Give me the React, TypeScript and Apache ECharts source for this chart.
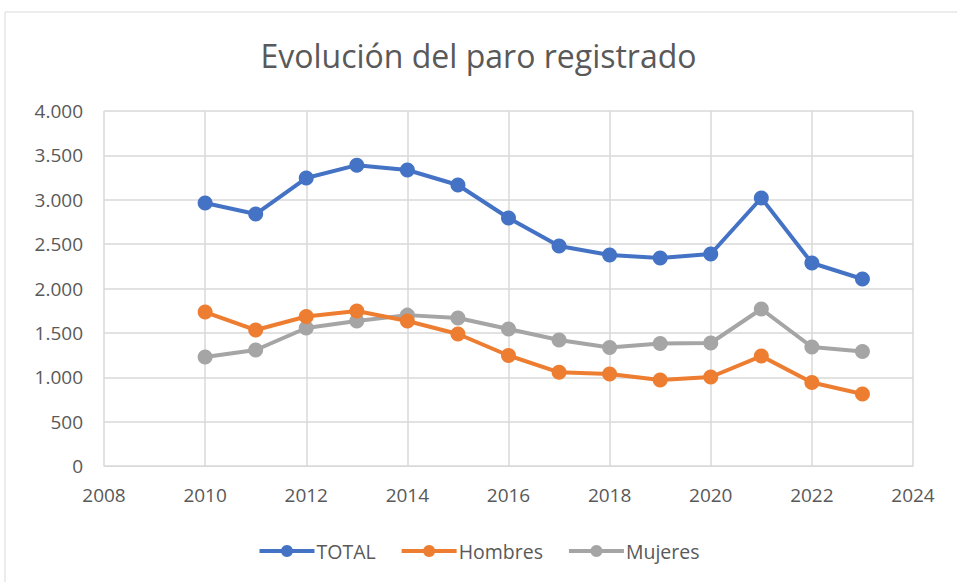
import React, { useEffect, useRef } from "react";
import * as echarts from "echarts";

const years = [2010, 2011, 2012, 2013, 2014, 2015, 2016, 2017, 2018, 2019, 2020, 2021, 2022, 2023];
const total = [2963, 2839, 3245, 3390, 3335, 3166, 2794, 2479, 2377, 2344, 2389, 3020, 2287, 2107];
const hombres = [1735, 1532, 1685, 1746, 1634, 1487, 1245, 1055, 1037, 969, 1003, 1239, 940, 811];
const mujeres = [1228, 1307, 1555, 1634, 1700, 1668, 1544, 1420, 1335, 1380, 1386, 1769, 1341, 1290];

const seriesNames = ["TOTAL", "Hombres", "Mujeres"];
const colors = ["#4472C4", "#ED7D31", "#A5A5A5"];

const fmt = (v: number) => {
  const s = String(Math.round(v));
  return s.replace(/\B(?=(\d{3})+(?!\d))/g, ".");
};

export default function App() {
  const ref = useRef<HTMLDivElement>(null);
  useEffect(() => {
    if (!ref.current) return;
    const chart = echarts.init(ref.current, undefined, { renderer: "svg" });
    const font = "'Open Sans', 'Noto Sans', sans-serif";
    const dataSets = [total, hombres, mujeres];
    chart.setOption({
      animation: false,
      backgroundColor: "#ffffff",
      title: {
        text: "Evolución del paro registrado",
        left: "center",
        top: 34,
        textStyle: { fontFamily: font, fontSize: 32, fontWeight: "normal", color: "#595959" },
      },
      graphic: [
        {
          type: "rect",
          shape: { x: 5, y: 12, width: 1000, height: 1000 },
          style: { fill: "none", stroke: "#d9d9d9", lineWidth: 1 },
          silent: true,
        },
      ],
      legend: {
        bottom: 16,
        left: "center",
        itemWidth: 55,
        itemHeight: 15,
        itemGap: 24,
        lineStyle: { width: 4 },
        textStyle: { fontFamily: font, fontSize: 19.5, color: "#595959", padding: [0, 0, 0, -3] },
        data: seriesNames,
      },
      grid: { left: 104, right: 44, top: 111, bottom: 116, containLabel: false },
      xAxis: {
        type: "value",
        min: 2008,
        max: 2024,
        interval: 2,
        axisLine: { show: true, lineStyle: { color: "#d9d9d9", width: 1 } },
        axisTick: { show: false },
        splitLine: { show: true, lineStyle: { color: "#d9d9d9", width: 1.5 } },
        axisLabel: {
          fontFamily: font,
          fontSize: 19,
          color: "#595959",
          margin: 19,
          formatter: (v: number) => String(v),
        },
      },
      yAxis: {
        type: "value",
        min: 0,
        max: 4000,
        interval: 500,
        axisLine: { show: false },
        axisTick: { show: false },
        splitLine: { show: true, lineStyle: { color: "#d9d9d9", width: 1.5 } },
        axisLabel: {
          fontFamily: font,
          fontSize: 19,
          color: "#595959",
          margin: 21,
          formatter: (v: number) => fmt(v),
        },
      },
      series: seriesNames.map((name, i) => ({
        name,
        type: "line",
        data: years.map((y, j) => [y, dataSets[i][j]]),
        symbol: "circle",
        symbolSize: 15,
        lineStyle: { width: 4, color: colors[i] },
        itemStyle: { color: colors[i] },
        z: 3 - i,
      })),
    });
    return () => chart.dispose();
  }, []);
  return (
    <div
      ref={ref}
      style={{ position: "absolute", left: 0, top: 0, width: 957, height: 582 }}
    />
  );
}
